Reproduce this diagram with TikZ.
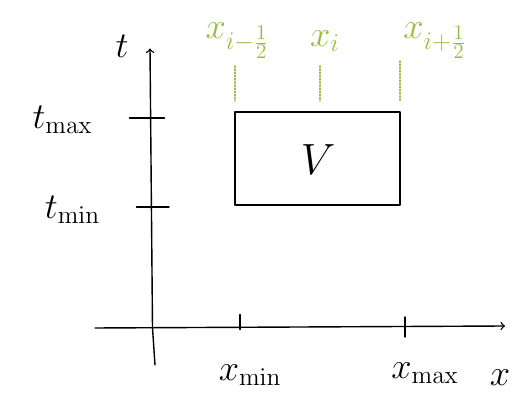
\documentclass[tikz,border=0pt]{standalone}
\usepackage{amsmath}
\definecolor{grn}{RGB}{150,190,60}
\begin{document}
\begin{tikzpicture}[scale=1,>=to, line join=round, line cap=round,
	lbl/.style={inner sep=1pt,font=\huge},
	glbl/.style={inner sep=1pt,font=\huge,text=grn},
	gline/.style={grn,densely dotted,thick}]
		\useasboundingbox (0,0) rectangle (10.2,7.92);
		% axes
		\coordinate (O) at (3.05,1.36);
		\coordinate (ttop) at (3.0,6.95);
		\coordinate (tbot) at (3.1,0.62);
		\coordinate (xleft) at (1.9,1.36);
		\coordinate (xright) at (10.1,1.40);
		\draw[thick] (tbot)--(O);
		\draw[thick,->] (O)--(ttop);
		\draw[thick,->] (xleft)--(xright);
		% ticks
		\coordinate (tmax) at (3.04,5.56);
		\coordinate (tmin) at (3.08,3.78);
		\coordinate (xmin) at (4.8,1.38);
		\coordinate (xmax) at (8.1,1.38);
		\draw[thick] ([xshift=-.45cm]tmax)--([xshift=.25cm]tmax)
		([xshift=-.35cm]tmin)--([xshift=.3cm]tmin)
		([yshift=-.05cm]xmin)--([yshift=.25cm]xmin)
		([yshift=-.2cm]xmax)--([yshift=.2cm]xmax);
		\node[lbl] (t) at (2.44,7.0) {$t$};
		\node[lbl] (tmaxl) at (1.25,5.52) {$t_{\max}$};
		\node[lbl] (tminl) at (1.45,3.72) {$t_{\min}$};
		\node[lbl] (xminl) at (5.0,0.42) {$x_{\min}$};
		\node[lbl] (xmaxl) at (8.5,0.46) {$x_{\max}$};
		\node[lbl] (x) at (10.0,0.36) {$x$};
		% cell
		\draw[thick] (4.7,3.82) rectangle (8.0,5.68);
		\node[lbl,font=\Huge] (V) at (6.36,4.72) {$V$};
		% cell faces
		\node[glbl] (xl) at (4.75,7.1) {$x_{i-\frac12}$};
		\node[glbl] (xc) at (6.5,7.1) {$x_i$};
		\node[glbl] (xr) at (8.7,7.1) {$x_{i+\frac12}$};
		\draw[gline] (4.7,6.6)--(4.7,5.9) (6.4,6.6)--(6.4,5.9) (8.0,6.7)--(8.0,5.9);
		\end{tikzpicture}
\end{document}
